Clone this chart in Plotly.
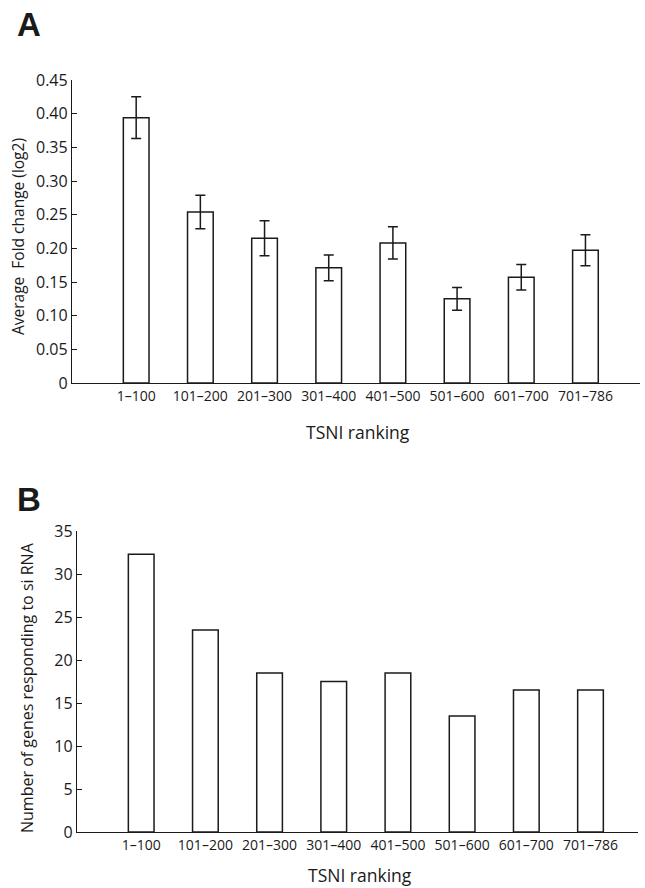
import plotly.graph_objects as go

categories = ["1–100", "101–200", "201–300", "301–400", "401–500", "501–600", "601–700", "701–786"]
fold_change = [0.394, 0.254, 0.215, 0.171, 0.208, 0.125, 0.157, 0.197]
fold_err = [0.031, 0.025, 0.026, 0.019, 0.024, 0.017, 0.019, 0.023]
genes_responding = [32.3, 23.5, 18.5, 17.5, 18.5, 13.5, 16.5, 16.5]

yticks_a = [0, 0.05, 0.10, 0.15, 0.20, 0.25, 0.30, 0.35, 0.40, 0.45]
yticklabels_a = ["0", "0.05", "0.10", "0.15", "0.20", "0.25", "0.30", "0.35", "0.40", "0.45"]
yticks_b = [0, 5, 10, 15, 20, 25, 30, 35]

W, H = 645, 888
FONT = "Open Sans"
INK = "#1a1a1a"

def px(x):
    return x / W

def py(y):
    return 1 - y / H

xs = list(range(len(categories)))

fig = go.Figure()
fig.add_trace(go.Bar(
    x=xs, y=fold_change, width=0.40,
    marker=dict(color="white", line=dict(color=INK, width=1.5)),
    error_y=dict(type="data", array=fold_err, visible=True, color=INK, thickness=1.5, width=5),
    xaxis="x", yaxis="y", showlegend=False,
))
fig.add_trace(go.Bar(
    x=xs, y=genes_responding, width=0.40,
    marker=dict(color="white", line=dict(color=INK, width=1.5)),
    xaxis="x2", yaxis="y2", showlegend=False,
))

axis_common = dict(showgrid=False, zeroline=False, showline=True, linecolor=INK,
                   linewidth=1.3, automargin=False)

fig.update_layout(
    template="none",
    width=W, height=H,
    margin=dict(l=0, r=0, t=0, b=0, pad=0),
    paper_bgcolor="white", plot_bgcolor="white",
    font=dict(family=FONT, color=INK),
    xaxis=dict(domain=[px(72), px(640)], range=[-1, 7.85], anchor="y",
               tickmode="array", tickvals=xs, ticktext=categories, ticks="",
               tickfont=dict(size=14, family=FONT, color=INK), **axis_common),
    yaxis=dict(domain=[py(383), py(80)], range=[0, 0.45], anchor="x",
               tickmode="array", tickvals=yticks_a, ticktext=yticklabels_a,
               ticks="inside", ticklen=5, tickwidth=1.3, tickcolor=INK,
               tickfont=dict(size=16, family=FONT, color=INK), **axis_common),
    xaxis2=dict(domain=[px(77), px(638)], range=[-1, 7.74], anchor="y2",
                tickmode="array", tickvals=xs, ticktext=categories, ticks="",
                tickfont=dict(size=14, family=FONT, color=INK), **axis_common),
    yaxis2=dict(domain=[py(832), py(531)], range=[0, 35], anchor="x2",
                tickmode="array", tickvals=yticks_b,
                ticks="inside", ticklen=5, tickwidth=1.3, tickcolor=INK,
                tickfont=dict(size=16, family=FONT, color=INK), **axis_common),
    bargap=0.6,
)

annotations = [
    dict(text="<b>A</b>", x=px(15), y=py(25), xanchor="left", yanchor="middle", font=dict(size=33, family="Liberation Sans")),
    dict(text="<b>B</b>", x=px(15), y=py(499), xanchor="left", yanchor="middle", font=dict(size=33, family="Liberation Sans")),
    dict(text="Average  Fold change (log2)", x=px(18), y=py(237), textangle=-90, xanchor="center", yanchor="middle", font=dict(size=15.5)),
    dict(text="Number of genes responding to si RNA", x=px(27), y=py(688), textangle=-90, xanchor="center", yanchor="middle", font=dict(size=16)),
    dict(text="TSNI ranking", x=px(358), y=py(432), xanchor="center", yanchor="middle", font=dict(size=17.5)),
    dict(text="TSNI ranking", x=px(360), y=py(875), xanchor="center", yanchor="middle", font=dict(size=17.5)),
]
for a in annotations:
    a.update(xref="paper", yref="paper", showarrow=False)
    a["font"].setdefault("color", INK)
fig.update_layout(annotations=annotations)

# remove the default 8px page margin so the 645x888 figure fills the window exactly
fig.write_html(
    "out.html",
    config={"displayModeBar": False},
    post_script="document.body.style.margin='0';document.body.style.padding='0';document.body.style.overflow='hidden';",
)
